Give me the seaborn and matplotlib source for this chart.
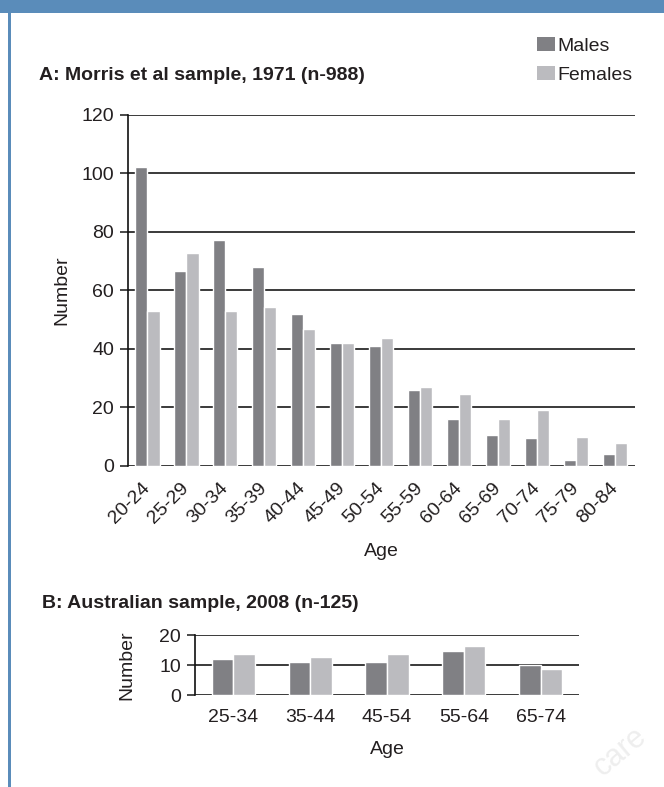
import matplotlib
matplotlib.use("Agg")
import matplotlib.pyplot as plt
from matplotlib.patches import Rectangle, Patch
import pandas as pd
import seaborn as sns

# panel A: Morris et al sample, 1971
ages_a = ['20-24', '25-29', '30-34', '35-39', '40-44', '45-49', '50-54',
          '55-59', '60-64', '65-69', '70-74', '75-79', '80-84']
males_a = [102, 66.5, 77, 68, 52, 42, 41, 26, 16, 10.7, 9.4, 2.2, 4.2]
females_a = [53, 72.7, 53, 54.3, 46.8, 42, 43.7, 27, 24.5, 16, 19, 10, 8]

# panel B: Australian sample, 2008
ages_b = ['25-34', '35-44', '45-54', '55-64', '65-74']
males_b = [12, 11, 11, 14.8, 10]
females_b = [13.8, 12.8, 13.8, 16.2, 8.6]

colors = {'Males': '#808084', 'Females': '#BBBBBF'}
text_col = '#231F20'
blue = '#5A8CBA'
FS = 14

sns.set_style('white')
plt.rcParams['font.family'] = ['Liberation Sans', 'DejaVu Sans']
plt.rcParams['text.color'] = text_col
plt.rcParams['axes.labelcolor'] = text_col
plt.rcParams['xtick.color'] = text_col
plt.rcParams['ytick.color'] = text_col


def long_df(ages, males, females):
    return pd.DataFrame({
        'Age': ages * 2,
        'Number': males + females,
        'Sex': ['Males'] * len(ages) + ['Females'] * len(ages),
    })


W, H = 664, 787
fig = plt.figure(figsize=(W / 100, H / 100), dpi=100)


def px_axes(left, top, right, bottom):
    return fig.add_axes([left / W, 1 - bottom / H, (right - left) / W, (bottom - top) / H])


def style_axes(ax, ticks):
    ax.set_yticks(ticks)
    ax.set_ylim(ticks[0], ticks[-1])
    ax.grid(False)
    for t in ticks:
        ax.axhline(t, color='#2b2b2b', lw=1.3, zorder=0.5)
    for s in ['top', 'right', 'bottom']:
        ax.spines[s].set_visible(False)
    ax.spines['left'].set_color('#111111')
    ax.spines['left'].set_linewidth(1.2)
    ax.tick_params(axis='y', length=6, width=1.2, pad=4, labelsize=FS, color='#2b2b2b', left=True)
    ax.tick_params(axis='x', length=0, labelsize=FS)


def place_labels(ax, xlab_pos, ylab_pos):
    ax.set_xlabel('Age', fontsize=FS)
    ax.set_ylabel('Number', fontsize=FS)
    ax.xaxis.set_label_coords(*xlab_pos)
    ax.yaxis.set_label_coords(*ylab_pos)
    ax.xaxis.label.set_va('center')
    ax.yaxis.label.set_va('center')


# ---- panel A
ax1 = px_axes(128, 114.5, 634.5, 466)
sns.barplot(data=long_df(ages_a, males_a, females_a), x='Age', y='Number', hue='Sex',
            palette=colors, width=0.62, saturation=1, legend=False, ax=ax1, zorder=2)
style_axes(ax1, [0, 20, 40, 60, 80, 100, 120])
for lab in ax1.get_xticklabels():
    lab.set_rotation(45)
    lab.set_ha('right')
    lab.set_va('center')
    lab.set_rotation_mode('anchor')
ax1.tick_params(axis='x', pad=14)
place_labels(ax1, (0.5, -(552 - 466) / 351.5), ((62 - 128) / 506.5, 0.5))

# ---- panel B
ax2 = px_axes(195, 635, 579, 695)
sns.barplot(data=long_df(ages_b, males_b, females_b), x='Age', y='Number', hue='Sex',
            palette=colors, width=0.56, saturation=1, legend=False, ax=ax2, zorder=2)
style_axes(ax2, [0, 10, 20])
ax2.tick_params(axis='x', pad=10)
place_labels(ax2, (0.5, -(749 - 695) / 60), ((127 - 195) / 384, 0.5))

# titles
fig.text(39 / W, 1 - 75 / H, 'A: Morris et al sample, 1971 (n-988)', fontsize=14,
         fontweight='bold', va='center', ha='left')
fig.text(42 / W, 1 - 604 / H, 'B: Australian sample, 2008 (n-125)', fontsize=14,
         fontweight='bold', va='center', ha='left')

# legend
handles = [Patch(facecolor=colors[k], edgecolor='none', label=k) for k in ['Males', 'Females']]
fig.legend(handles=handles, loc='upper left', bbox_to_anchor=(537 / W, 1 - 37 / H),
           frameon=False, fontsize=FS, borderpad=0, borderaxespad=0,
           handlelength=0.95, handleheight=0.7, handletextpad=0.12, labelspacing=0.58)

# header band, left border and faint watermark
fig.patches.append(Rectangle((0, 1 - 13 / H), 1, 13 / H, transform=fig.transFigure,
                             facecolor=blue, edgecolor='none', zorder=0))
fig.patches.append(Rectangle((8 / W, 0), 2.5 / W, 1 - 13 / H, transform=fig.transFigure,
                             facecolor=blue, edgecolor='none', zorder=0))
fig.text(588 / W, 1 - 782 / H, 'care', fontsize=22, color='#EEEEEE', rotation=40,
         ha='left', va='bottom')

fig.savefig('out.png', dpi=100)
